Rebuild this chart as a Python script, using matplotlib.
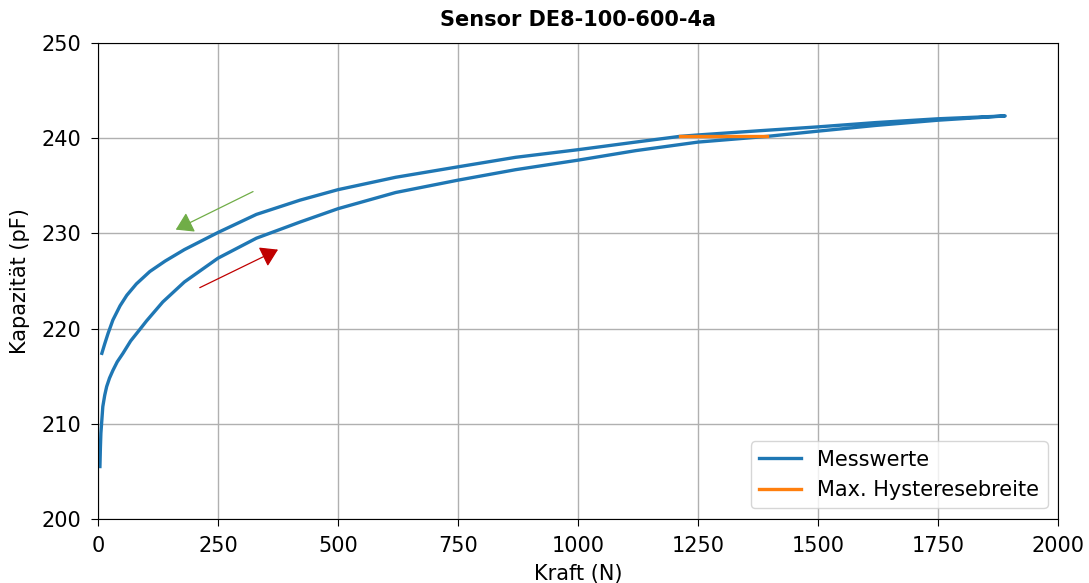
import matplotlib
matplotlib.use("Agg")
import matplotlib.pyplot as plt

# Belastung (Kraft steigt)
kraft_auf = [4, 5, 6, 8, 10, 14, 18, 24, 31, 40, 52, 68, 87, 101, 135, 180, 250, 330, 421, 500,
             620, 750, 870, 1000, 1120, 1250, 1394, 1500, 1620, 1750, 1890]
kap_auf = [205.5, 207.5, 209.0, 210.4, 211.8, 213.0, 213.9, 214.8, 215.6, 216.5, 217.4, 218.7,
           219.9, 220.8, 222.8, 224.9, 227.4, 229.5, 231.2, 232.6, 234.3, 235.6, 236.7, 237.7,
           238.7, 239.6, 240.2, 240.75, 241.35, 241.9, 242.35]

# Entlastung (Kraft sinkt)
kraft_ab = [1890, 1750, 1620, 1500, 1380, 1250, 1212, 1120, 1000, 870, 750, 620, 500, 421, 330,
            250, 180, 140, 108, 80, 60, 46, 31, 21, 14, 8]
kap_ab = [242.35, 242.05, 241.65, 241.2, 240.8, 240.35, 240.2, 239.6, 238.8, 238.0, 237.0, 235.9,
          234.6, 233.5, 232.0, 230.1, 228.3, 227.1, 226.0, 224.7, 223.5, 222.4, 220.9, 219.5,
          218.4, 217.4]

# Maximale Hysteresebreite
hyst_kraft = [1212, 1394]
hyst_kap = [240.2, 240.2]

# Pfeile: (Start, Ziel)
pfeil_ab = ((323, 234.4), (162, 230.4))
pfeil_auf = ((212, 224.3), (375, 228.3))

fig = plt.figure(figsize=(10.89, 5.83), dpi=100)
ax = fig.add_axes([0.090, 0.110, 0.8815, 0.816])

ax.plot(kraft_auf + kraft_ab, kap_auf + kap_ab, color="#1f77b4", lw=2.4, label="Messwerte")
ax.plot(hyst_kraft, hyst_kap, color="#ff7f0e", lw=2.4, label="Max. Hysteresebreite")

stil = "-|>,head_length=0.35,head_width=0.22"
ax.annotate("", xy=pfeil_ab[1], xytext=pfeil_ab[0],
            arrowprops=dict(arrowstyle=stil, color="#70AD47", lw=0.9, mutation_scale=30,
                            shrinkA=0, shrinkB=0))
ax.annotate("", xy=pfeil_auf[1], xytext=pfeil_auf[0],
            arrowprops=dict(arrowstyle=stil, color="#C00000", lw=0.9, mutation_scale=30,
                            shrinkA=0, shrinkB=0))

ax.set_xlim(0, 2000)
ax.set_ylim(200, 250)
ax.set_xticks(range(0, 2001, 250))
ax.set_yticks(range(200, 251, 10))
ax.grid(True, color="#b0b0b0", lw=1.0)
ax.set_axisbelow(True)
ax.tick_params(labelsize=15, length=5, pad=7)
ax.set_xlabel("Kraft (N)", fontsize=15, labelpad=6)
ax.set_ylabel("Kapazität (pF)", fontsize=15, labelpad=8)
ax.set_title("Sensor DE8-100-600-4a", fontsize=15, fontweight="bold", pad=12)
ax.legend(loc="lower right", fontsize=15)

fig.savefig("out.png", dpi=100)
